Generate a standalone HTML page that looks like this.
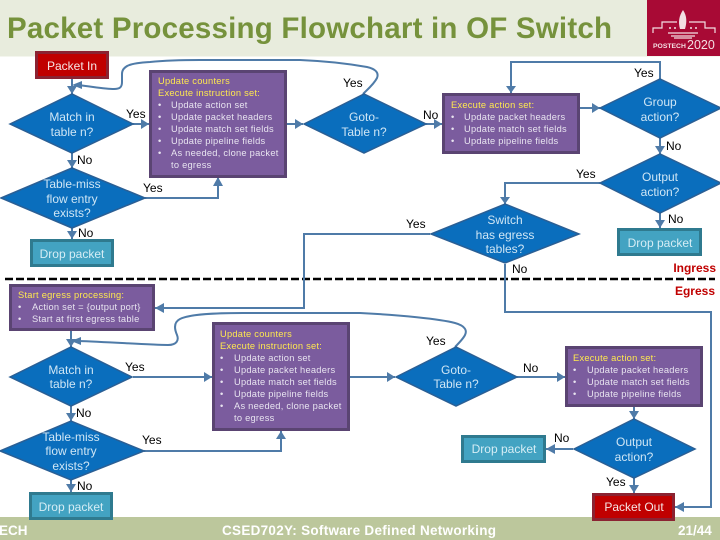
<!DOCTYPE html>
<html><head><meta charset="utf-8"><style>
html,body{margin:0;padding:0;width:720px;height:540px;overflow:hidden;background:#fff}
svg{display:block}
text{font-family:"Liberation Sans",sans-serif}
.l{font-size:12px;fill:#000}
.d{font-size:12px;fill:#cfe6f5;text-anchor:middle}
.w{font-size:9.3px;fill:#e8e4f0;letter-spacing:.25px}
.y{font-size:9.3px;fill:#ffe94f;letter-spacing:.25px}
.p{fill:#7b5c9e;stroke:#5a4472;stroke-width:3}
.m{fill:#0a6ebd;stroke:#2a5f95;stroke-width:1.5}
.dp{fill:#43a3c2;stroke:#2f7a8f;stroke-width:3}
.r{fill:#c00000;stroke:#8b2332;stroke-width:3}
.c{fill:none;stroke:#4f7ba8;stroke-width:2}
.a{fill:#4f7ba8}
</style></head><body>
<svg width="720" height="540" viewBox="0 0 720 540" xmlns="http://www.w3.org/2000/svg">
<rect x="0" y="0" width="720" height="56.500" fill="#e8ecdd"/>
<text x="7" y="38" font-size="29.500" font-weight="bold" fill="#76923c" textLength="605">Packet Processing Flowchart in OF Switch</text>
<rect x="647" y="0" width="73" height="56" fill="#a80a35"/>
<g fill="none" stroke="#f3dfe3" stroke-width="1.200"><path d="M653 33V28H662V22H677M689 22H705V28H715V33"/><path d="M668 33H698M671 36H695M674 38H692"/></g>
<path d="M683 10C687 16 687 22 685 29H680C678 22 679 16 683 10Z" fill="#f3dfe3"/>
<g fill="#f3dfe3"><circle cx="670" cy="28" r="1"/><circle cx="675" cy="28" r="1"/><circle cx="691" cy="28" r="1"/><circle cx="696" cy="28" r="1"/></g>
<text x="653" y="48" font-size="6.800" font-weight="bold" fill="#f3dfe3">POSTECH</text>
<text x="687" y="49" font-size="12.500" fill="#f3dfe3">2020</text>

<rect x="0" y="517" width="720" height="23" fill="#bcc79c"/>
<text x="-1" y="535" font-size="13.500" font-weight="bold" fill="#fff">ECH</text>
<text x="222" y="535" font-size="13.500" font-weight="bold" fill="#fff" textLength="274">CSED702Y: Software Defined Networking</text>
<text x="678" y="535" font-size="13.500" font-weight="bold" fill="#fff">21/44</text>

<line x1="5" y1="279" x2="715" y2="279" stroke="#000" stroke-width="2.500" stroke-dasharray="8 3"/>
<text x="716" y="272" text-anchor="end" font-size="12" font-weight="bold" fill="#c00000">Ingress</text>
<text x="715" y="295" text-anchor="end" font-size="12" font-weight="bold" fill="#c00000">Egress</text>

<!-- connectors top -->
<path class="c" d="M72 79V94M72 153V168M72 228V239M133 124H149M145 198H218V178M287 124H303M426 124H442M580 108H600M660 138V154M660 213V228"/>
<path class="c" d="M78 85C95 87 105 89 114 89C120 89 122 87 122 82V74C122 66 130 63 150 62C170 60 190 60 200 60H300C325 61 350 64 367 67C376 69 379 73 377 78C374 84 368 89 363 94"/>
<path class="c" d="M660 79V62H511V93"/>
<path class="c" d="M600 183H505V204"/>
<path class="c" d="M430 234H304V308H155"/>
<path class="c" d="M505 264V312H711V507H675"/>
<!-- connectors bottom -->
<path class="c" d="M71 331V347M71 406V421M71 480V492M133 377H212M144 451H281V431M350 377H395M517 377H565M634 406V419M573 449H546M634 478V493"/>
<path class="c" d="M78 341C110 342 150 345 168 345C177 345 179 340 177 335C174 328 174 322 180 319C190 314 215 313 243 313H360C400 315 440 319 455 323C466 326 467 331 465 335C463 339 459 343 455 347"/>
<g class="a">
<path d="M72 94L67 86H77Z"/><path d="M72 168L67 160H77Z"/><path d="M72 239L67 231H77Z"/>
<path d="M149 124L141 119V129Z"/><path d="M218 177L213 186H223Z"/><path d="M72 85L82 81V89Z"/>
<path d="M303 124L295 119V129Z"/><path d="M442 124L434 119V129Z"/><path d="M511 93L506 86H516Z"/>
<path d="M600 108L592 103V113Z"/><path d="M660 154L655 146H665Z"/><path d="M660 228L655 220H665Z"/>
<path d="M505 204L500 197H510Z"/><path d="M155 308L164 303V313Z"/><path d="M675 507L684 502V512Z"/>
<path d="M71 347L66 339H76Z"/><path d="M71 421L66 413H76Z"/><path d="M71 492L66 484H76Z"/>
<path d="M212 377L204 372V382Z"/><path d="M281 431L276 439H286Z"/><path d="M71 341L81 337V345Z"/>
<path d="M395 377L387 372V382Z"/><path d="M565 377L557 372V382Z"/><path d="M634 419L629 411H639Z"/>
<path d="M546 449L555 444V454Z"/><path d="M634 493L629 485H639Z"/>
</g>

<!-- top nodes -->
<rect class="r" x="36.500" y="52.500" width="71" height="25"/>
<text x="72" y="70" font-size="12" fill="#f6e6e6" text-anchor="middle">Packet In</text>
<path class="m" d="M10 124L72 94L133 124L72 153Z"/>
<text class="d" x="72" y="121">Match in</text><text class="d" x="72" y="136">table n?</text>
<path class="m" d="M1 198L72 168L145 198L72 228Z"/>
<text class="d" x="72" y="188">Table-miss</text><text class="d" x="72" y="203">flow entry</text><text class="d" x="72" y="217">exists?</text>
<rect class="dp" x="31.500" y="240.500" width="81" height="25"/>
<text x="72" y="258" font-size="12" fill="#d5edf5" text-anchor="middle">Drop packet</text>

<rect class="p" x="150.500" y="71.500" width="135" height="105"/>
<text class="y" x="158" y="84">Update counters</text>
<text class="y" x="158" y="96">Execute instruction set:</text>
<g class="w"><text x="158" y="108">•</text><text x="171" y="108">Update action set</text>
<text x="158" y="120">•</text><text x="171" y="120">Update packet headers</text>
<text x="158" y="132">•</text><text x="171" y="132">Update match set fields</text>
<text x="158" y="144">•</text><text x="171" y="144">Update pipeline fields</text>
<text x="158" y="156">•</text><text x="171" y="156">As needed, clone packet</text>
<text x="171" y="168">to egress</text></g>

<path class="m" d="M304 124L364 94L426 124L364 153Z"/>
<text class="d" x="364" y="121">Goto-</text><text class="d" x="364" y="136">Table n?</text>

<rect class="p" x="443.500" y="94.500" width="135" height="58"/>
<text class="y" x="451" y="108">Execute action set:</text>
<g class="w"><text x="451" y="120">•</text><text x="464" y="120">Update packet headers</text>
<text x="451" y="132">•</text><text x="464" y="132">Update match set fields</text>
<text x="451" y="144">•</text><text x="464" y="144">Update pipeline fields</text></g>

<path class="m" d="M600 108L660 79L721 108L660 138Z"/>
<text class="d" x="660" y="106">Group</text><text class="d" x="660" y="121">action?</text>
<path class="m" d="M600 183L660 154L721 183L660 213Z"/>
<text class="d" x="660" y="181">Output</text><text class="d" x="660" y="196">action?</text>
<rect class="dp" x="618.500" y="229.500" width="82" height="25"/>
<text x="660" y="247" font-size="12" fill="#d5edf5" text-anchor="middle">Drop packet</text>
<path class="m" d="M431 234L505 204L579 234L505 263Z"/>
<text class="d" x="505" y="224">Switch</text><text class="d" x="505" y="239">has egress</text><text class="d" x="505" y="253">tables?</text>

<!-- bottom nodes -->
<rect class="p" x="10.500" y="285.500" width="143" height="44"/>
<text class="y" x="18" y="298">Start egress processing:</text>
<g class="w"><text x="18" y="310">•</text><text x="32" y="310">Action set = {output port}</text>
<text x="18" y="322">•</text><text x="32" y="322">Start at first egress table</text></g>

<path class="m" d="M10 377L71 347L132 377L71 406Z"/>
<text class="d" x="71" y="374">Match in</text><text class="d" x="71" y="388">table n?</text>
<path class="m" d="M0 451L71 421L144 451L71 480Z"/>
<text class="d" x="71" y="441">Table-miss</text><text class="d" x="71" y="455">flow entry</text><text class="d" x="71" y="470">exists?</text>
<rect class="dp" x="30.500" y="493.500" width="81" height="25"/>
<text x="71" y="511" font-size="12" fill="#d5edf5" text-anchor="middle">Drop packet</text>

<rect class="p" x="213.500" y="323.500" width="135" height="106"/>
<text class="y" x="220" y="337">Update counters</text>
<text class="y" x="220" y="349">Execute instruction set:</text>
<g class="w"><text x="220" y="361">•</text><text x="234" y="361">Update action set</text>
<text x="220" y="373">•</text><text x="234" y="373">Update packet headers</text>
<text x="220" y="385">•</text><text x="234" y="385">Update match set fields</text>
<text x="220" y="397">•</text><text x="234" y="397">Update pipeline fields</text>
<text x="220" y="409">•</text><text x="234" y="409">As needed, clone packet</text>
<text x="234" y="421">to egress</text></g>

<path class="m" d="M396 377L456 347L517 377L456 406Z"/>
<text class="d" x="456" y="374">Goto-</text><text class="d" x="456" y="388">Table n?</text>

<rect class="p" x="566.500" y="347.500" width="135" height="58"/>
<text class="y" x="573" y="361">Execute action set:</text>
<g class="w"><text x="573" y="373">•</text><text x="587" y="373">Update packet headers</text>
<text x="573" y="385">•</text><text x="587" y="385">Update match set fields</text>
<text x="573" y="397">•</text><text x="587" y="397">Update pipeline fields</text></g>

<path class="m" d="M574 449L634 419L695 449L634 478Z"/>
<text class="d" x="634" y="446">Output</text><text class="d" x="634" y="461">action?</text>
<rect class="dp" x="462.500" y="436.500" width="82" height="25"/>
<text x="504" y="453" font-size="12" fill="#d5edf5" text-anchor="middle">Drop packet</text>
<rect class="r" x="593.500" y="494.500" width="80" height="25"/>
<text x="634" y="511" font-size="12" fill="#f6e6e6" text-anchor="middle">Packet Out</text>

<!-- labels -->
<g class="l">
<text x="126" y="118">Yes</text><text x="77" y="164">No</text><text x="143" y="192">Yes</text><text x="78" y="237">No</text>
<text x="343" y="87">Yes</text><text x="423" y="119">No</text><text x="634" y="77">Yes</text>
<text x="666" y="150">No</text><text x="576" y="178">Yes</text><text x="668" y="223">No</text>
<text x="406" y="228">Yes</text><text x="512" y="273">No</text>
<text x="125" y="371">Yes</text><text x="76" y="417">No</text><text x="142" y="444">Yes</text><text x="77" y="490">No</text>
<text x="426" y="345">Yes</text><text x="523" y="372">No</text><text x="554" y="442">No</text><text x="606" y="486">Yes</text>
</g>
</svg>
</body></html>
